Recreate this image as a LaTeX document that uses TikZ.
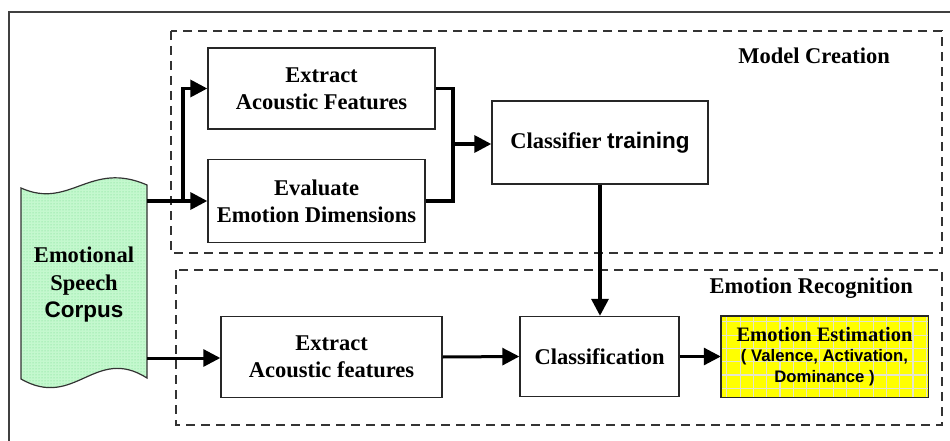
\documentclass[tikz,border=0pt]{standalone}
\usepackage{fontspec}
\setmainfont{Liberation Serif}
\newfontfamily\sansb{Liberation Sans}
\usetikzlibrary{arrows.meta,patterns}

\definecolor{corpusgreen}{RGB}{196,248,206}
\definecolor{corpusdot}{RGB}{110,215,135}
\definecolor{estyellow}{RGB}{255,255,0}
\definecolor{estgrid}{RGB}{228,228,205}

\begin{document}
\begin{tikzpicture}[x=1pt,y=-1pt,
  box/.style={draw=black!85,line width=1.4pt,fill=white,align=center,
    inner sep=0pt,font=\fontsize{22.5}{27}\selectfont\bfseries},
  zone/.style={draw=black!80,line width=1.4pt,dash pattern=on 9pt off 6pt},
  zonelabel/.style={anchor=east,inner sep=0pt,font=\fontsize{22.5}{27}\selectfont\bfseries},
  flow/.style={line width=3.4pt,-{Triangle[length=17pt,width=17pt]}},
  thinflow/.style={line width=3pt,-{Triangle[length=17pt,width=17pt]}},
  plain/.style={line width=3.4pt}
]
\useasboundingbox (0,0) rectangle (950,441);

% outer frame (only its top and left edges fall inside the picture)
\draw[line width=1.5pt,black!75] (9,460) -- (9,12) -- (970,12);

% the two stage regions
\draw[zone] (171,31) rectangle (942,253);
\draw[zone] (176,270) rectangle (942,425);
\node[zonelabel] (lblmodel) at (890,56) {Model Creation};
\node[zonelabel] (lblrec) at (913,288) {Emotion Recognition};

% speech corpus (wavy tape shape)
\path[fill=corpusgreen] (21,188) .. controls (70,210) and (90,160) .. (147,185)
  -- (147,378) .. controls (95,345) and (75,410) .. (21,379) -- cycle;
\path[pattern=dots,pattern color=corpusdot] (21,188) .. controls (70,210) and (90,160) .. (147,185)
  -- (147,378) .. controls (95,345) and (75,410) .. (21,379) -- cycle;
\draw[line width=1.2pt,black!80] (21,188) .. controls (70,210) and (90,160) .. (147,185)
  -- (147,378) .. controls (95,345) and (75,410) .. (21,379) -- cycle;
\node[align=center,inner sep=0pt,font=\fontsize{22.5}{27.5}\selectfont\bfseries]
  (corpus) at (84,285) {Emotional\\Speech\\{\sansb Corpus}};
\coordinate (corpusup) at (147,201);
\coordinate (corpuslow) at (147,358);

% process boxes
\node[box,minimum width=227pt,minimum height=81pt] (ext1) at (321.5,88.5)
  {Extract\\Acoustic Features};
\node[box,minimum width=217pt,minimum height=83pt] (eval) at (316.5,201)
  {Evaluate\\Emotion Dimensions};
\node[box,minimum width=216pt,minimum height=83pt] (train) at (600,142.5)
  {Classifier {\sansb training}};
\node[box,minimum width=221pt,minimum height=81pt] (ext2) at (331.5,357)
  {Extract\\Acoustic features};
\node[box,minimum width=159pt,minimum height=80pt] (cls) at (599.5,356.5)
  {Classification};

% result box with a yellow grid fill
\node[minimum width=207pt,minimum height=81pt,inner sep=0pt] (est) at (824.5,356.5) {};
\fill[estyellow] (est.north west) rectangle (est.south east);
\begin{scope}
  \clip (est.north west) rectangle (est.south east);
  \foreach \gx in {0,...,16} {
    \draw[estgrid,line width=1.1pt] ([xshift=\gx*13.3pt+6pt]est.north west) -- ++(0,90);
  }
  \foreach \gy in {0,...,6} {
    \draw[estgrid,line width=1.1pt] ([yshift=-\gy*13.3pt-6pt]est.north west) -- ++(220,0);
  }
\end{scope}
\draw[black!85,line width=1.4pt] (est.north west) rectangle (est.south east);
\node[align=center,inner sep=0pt,font=\fontsize{20.5}{20.5}\selectfont\bfseries]
  (esttext) at (est.center)
  {Emotion Estimation\\{\sansb\fontsize{16.7}{20.5}\selectfont ( Valence, Activation,}\\
   {\sansb\fontsize{16.7}{20.5}\selectfont Dominance )}};

% model creation flow
\coordinate (split) at (183,201);
\coordinate (merge) at (453,144);
\draw[flow] (corpusup) -- (eval.west |- corpusup);
\draw[flow] (split) |- (ext1.west);
\draw[plain] (ext1.east) -| (merge);
\draw[plain] (eval.east) -| (merge);
\draw[flow] (merge) -- (train.west |- merge);
\draw[flow] (train.south) -- (cls.north -| train.south);

% recognition flow
\draw[thinflow] (corpuslow) -- (ext2.west |- corpuslow);
\draw[thinflow] (ext2.east) -- (cls.west);
\draw[thinflow] (cls.east) -- (est.west);
\end{tikzpicture}
\end{document}
